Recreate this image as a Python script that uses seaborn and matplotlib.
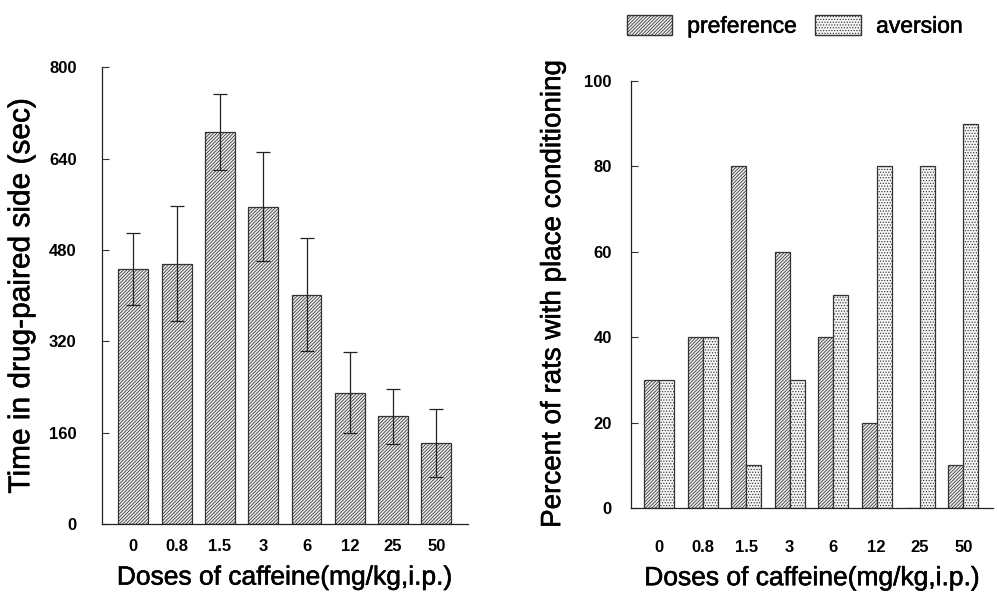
import numpy as np
import pandas as pd
import matplotlib
matplotlib.use('Agg')
from matplotlib import pyplot as plt
from matplotlib.patches import Patch
import matplotlib.patheffects as pe
import seaborn as sns

doses = ['0', '0.8', '1.5', '3', '6', '12', '25', '50']
time_sec = [446, 456, 687, 556, 402, 230, 189, 142]
time_err = [63, 101, 67, 96, 99, 71, 48, 59]
preference = [30, 40, 80, 60, 40, 20, 0, 10]
aversion = [30, 40, 10, 30, 50, 80, 80, 90]

sns.set_style('white')
plt.rcParams['font.family'] = ['Liberation Sans', 'DejaVu Sans']
plt.rcParams['text.color'] = 'black'
plt.rcParams['axes.labelcolor'] = 'black'
plt.rcParams['xtick.color'] = 'black'
plt.rcParams['ytick.color'] = '#333333'
plt.rcParams['ytick.labelcolor'] = 'black'
plt.rcParams['hatch.linewidth'] = 0.55
plt.rcParams['hatch.color'] = '#3a3a3a'

PREF_HATCH = '//////////'
AVER_HATCH = '......'
EDGE = '#333333'
medium = [pe.withStroke(linewidth=0.4, foreground='black')]

fig = plt.figure(figsize=(9.97, 5.95), dpi=100)
ax1 = fig.add_axes([0.102, 0.119, 0.367, 0.768])
ax2 = fig.add_axes([0.633, 0.146, 0.363, 0.718])

# left panel: time in drug-paired side
left_df = pd.DataFrame({'dose': doses, 'time': time_sec})
sns.barplot(data=left_df, x='dose', y='time', ax=ax1, width=0.69,
            color='#ececec', edgecolor=EDGE, linewidth=0.9, saturation=1)
for p in ax1.patches:
    p.set_hatch(PREF_HATCH)
ax1.errorbar(np.arange(len(doses)), time_sec, yerr=time_err, fmt='none',
             ecolor='#222222', elinewidth=0.9, capsize=5, capthick=0.9)
ax1.set_ylim(0, 800)
ax1.set_xlim(-0.73, 7.72)
ax1.set_yticks([0, 160, 320, 480, 640, 800])
ax1.set_ylabel('Time in drug-paired side (sec)', fontsize=21.5, labelpad=10,
               path_effects=medium)
ax1.set_xlabel('Doses of caffeine(mg/kg,i.p.)', fontsize=19, labelpad=8,
               path_effects=medium)
ax1.tick_params(axis='y', pad=18)
ax1.tick_params(axis='x', pad=11)

# right panel: percent of rats with place conditioning
right_df = pd.DataFrame({
    'dose': doses * 2,
    'pct': preference + aversion,
    'kind': ['preference'] * len(doses) + ['aversion'] * len(doses),
})
sns.barplot(data=right_df, x='dose', y='pct', hue='kind', ax=ax2, width=0.69,
            palette=['#ececec', '#f6f6f6'], edgecolor=EDGE, linewidth=0.9,
            saturation=1, legend=False)
for cont, h in zip(ax2.containers, [PREF_HATCH, AVER_HATCH]):
    for p in cont:
        p.set_hatch(h)
ax2.set_ylim(0, 100)
ax2.set_xlim(-0.65, 7.68)
ax2.set_yticks([0, 20, 40, 60, 80, 100])
ax2.set_ylabel('Percent of rats with place conditioning', fontsize=20, labelpad=13,
               path_effects=medium)
ax2.set_xlabel('Doses of caffeine(mg/kg,i.p.)', fontsize=19, labelpad=8,
               path_effects=medium)
ax2.tick_params(axis='y', pad=14)
ax2.tick_params(axis='x', pad=23)

handles = [Patch(facecolor='#ececec', edgecolor=EDGE, hatch=PREF_HATCH, label='preference'),
           Patch(facecolor='#f6f6f6', edgecolor=EDGE, hatch=AVER_HATCH, label='aversion')]
leg = fig.legend(handles=handles, loc='center', bbox_to_anchor=(0.797, 0.956), ncol=2,
                 frameon=False, handlelength=2.0, handleheight=0.95,
                 columnspacing=0.8, handletextpad=0.65,
                 prop={'family': 'Liberation Sans', 'size': 16.5})
for t in leg.get_texts():
    t.set_path_effects(medium)

for ax in (ax1, ax2):
    sns.despine(ax=ax)
    for s in ('left', 'bottom'):
        ax.spines[s].set_color('#222222')
        ax.spines[s].set_linewidth(0.9)
    ax.tick_params(axis='y', direction='in', length=5, width=0.8, left=True, labelsize=12)
    ax.tick_params(axis='x', length=0, labelsize=12)
    for lbl in ax.get_xticklabels() + ax.get_yticklabels():
        lbl.set_fontweight('bold')

fig.savefig('out.png', dpi=100)
